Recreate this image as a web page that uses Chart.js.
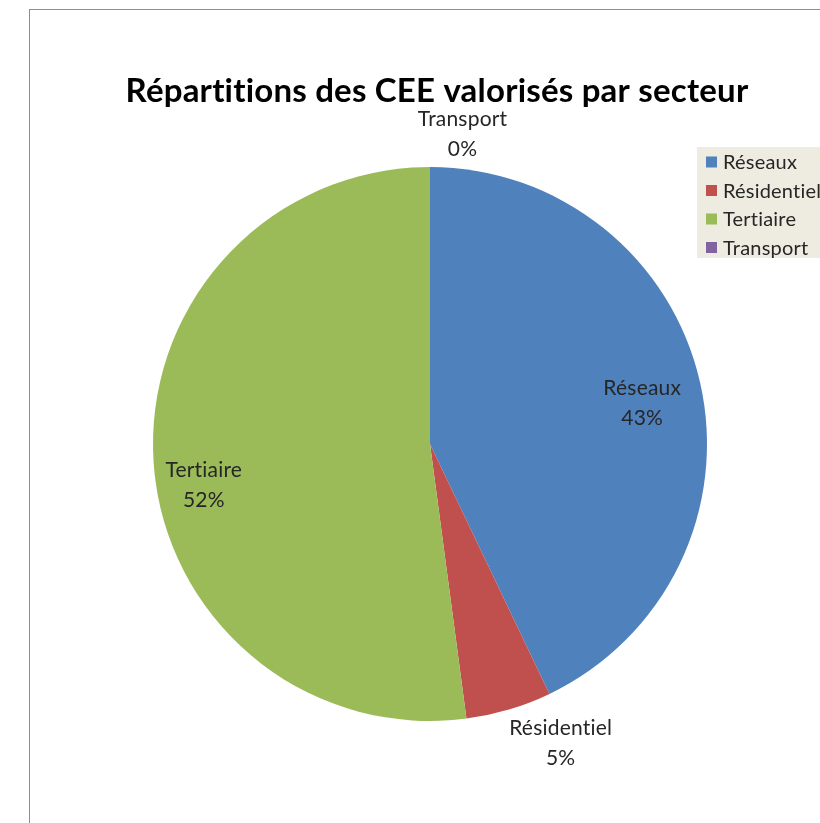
<!DOCTYPE html>
<html>
<head>
<meta charset="utf-8">
<script src="https://cdn.jsdelivr.net/npm/chart.js@4.4.1/dist/chart.umd.min.js"></script>
<style>
    html, body { margin: 0; padding: 0; background: #fff; }
    #wrap { width: 820px; height: 823px; }
    canvas { font-variant-ligatures: none; }
</style>
</head>
<body>
<div id="wrap"><canvas id="pieChart" width="820" height="823"></canvas></div>
<script>
// data
const categories = ['Réseaux', 'Résidentiel', 'Tertiaire', 'Transport'];
const shares = [42.9, 5.0, 52.1, 0.0];
const sliceColors = ['#4F81BD', '#C0504D', '#9BBB59', '#8064A2'];
const chartTitle = 'Répartitions des CEE valorisés par secteur';

// where each data label sits: fraction of radius + angle nudge (deg)
const labelSpots = [
    { k: 0.78, d: 2 },
    { k: 1.18, d: -7 },
    { k: 0.83, d: -6.5 },
    { k: 1.125, d: 6 }
];

const labelFont = '21px Lato, "Open Sans", sans-serif';
const legendFont = '20px Lato, "Open Sans", sans-serif';
const textClr = '#262626';

const excelLook = {
    id: 'excelLook',
    beforeDraw: function (chart) {
        const ctx = chart.ctx;
        ctx.save();
        ctx.fillStyle = '#fff';
        ctx.fillRect(0, 0, chart.width, chart.height);
        ctx.strokeStyle = '#8e8e8e';
        ctx.lineWidth = 1;
        ctx.strokeRect(29.5, 9.5, 1000, 1000);
        ctx.restore();
    },
    afterDraw: function (chart) {
        const ctx = chart.ctx;
        ctx.save();
        ctx.letterSpacing = '0.2px'; // keeps Lato from joining "ti"
        // title
        ctx.fillStyle = '#000';
        ctx.font = 'bold 33px Lato, "Open Sans", sans-serif';
        ctx.textAlign = 'center';
        ctx.textBaseline = 'middle';
        ctx.fillText(chartTitle, 437, 91);

        // data labels
        const meta = chart.getDatasetMeta(0);
        const total = shares.reduce(function (a, b) { return a + b; }, 0);
        ctx.font = labelFont;
        ctx.fillStyle = textClr;
        meta.data.forEach(function (arc, i) {
            const p = arc.getProps(['x', 'y', 'startAngle', 'endAngle', 'outerRadius'], true);
            const mid = (p.startAngle + p.endAngle) / 2 + labelSpots[i].d * Math.PI / 180;
            const r = p.outerRadius * labelSpots[i].k;
            const x = p.x + Math.cos(mid) * r;
            const y = p.y + Math.sin(mid) * r;
            const pct = Math.round(shares[i] / total * 100) + '%';
            ctx.fillText(categories[i], x, y - 15);
            ctx.fillText(pct, x, y + 15);
        });

        // legend
        ctx.fillStyle = '#EEECE1';
        ctx.fillRect(697, 147, 130, 111);
        ctx.textAlign = 'left';
        ctx.font = legendFont;
        categories.forEach(function (name, i) {
            const y = 162 + i * 28.5;
            ctx.fillStyle = sliceColors[i];
            ctx.fillRect(706, y - 5.5, 11, 11);
            ctx.fillStyle = textClr;
            ctx.fillText(name, 723, y + 1);
        });
        ctx.restore();
    }
};

const pieConfig = {
    type: 'pie',
    data: {
        labels: categories,
        datasets: [{
            data: shares,
            backgroundColor: sliceColors,
            borderWidth: 0
        }]
    },
    options: {
        responsive: false,
        animation: false,
        layout: {
            padding: { left: 153, right: 113, top: 167, bottom: 102 }
        },
        plugins: {
            legend: { display: false },
            title: { display: false },
            tooltip: { enabled: false }
        }
    },
    plugins: [excelLook]
};
new Chart(document.getElementById('pieChart'), pieConfig);
</script>
</body>
</html>
